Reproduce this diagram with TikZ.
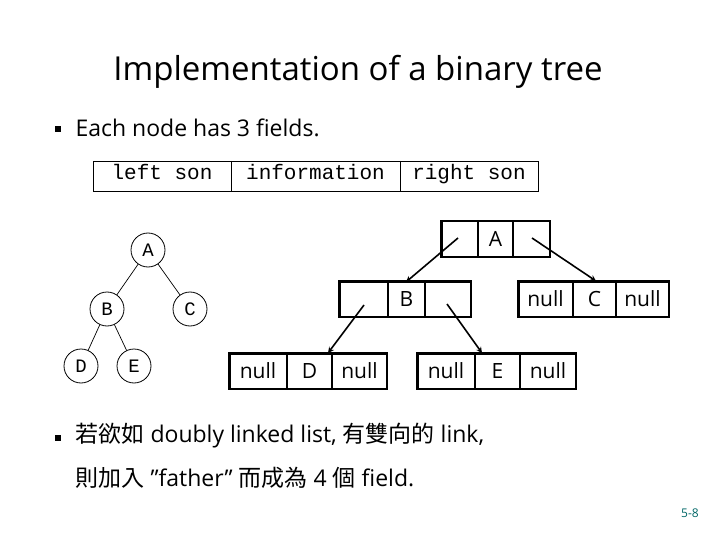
\documentclass[tikz,border=0pt]{standalone}
\usepackage{fontspec}
\setmainfont{Open Sans}
\newfontfamily\monof{Liberation Mono}
\newfontfamily\cjk{Noto Sans CJK TC}
\begin{document}
\begin{tikzpicture}[x=1pt,y=-1pt,
  hdr/.style={font=\monof\fontsize{21}{21}\selectfont,text height=12pt,text depth=4pt},
  circ/.style={circle,minimum size=34pt,inner sep=0pt,font=\monof\fontsize{19}{19}\selectfont},
  lbl/.style={font=\fontsize{21}{21}\selectfont,text height=15pt,text depth=0pt},
  ptr/.style={-stealth,line width=1.6pt},
  bul/.style={fill=black,minimum size=6pt,inner sep=0pt}]
\useasboundingbox (0,0) rectangle (720,540);
\node[font=\fontsize{33}{33}\selectfont] (title) at (358,72) {Implementation of a binary tree};
\node[bul] (b1) at (58,129) {};
\node[anchor=west,font=\fontsize{23}{23}\selectfont] (t1) at (72,128) {Each node has 3 fields.};
% header
\draw[line width=0.8pt] (93,161) rectangle (538,191);
\draw[line width=0.8pt] (231,161) -- (231,191) (400,161) -- (400,191);
\node[hdr] (h1) at (162,176) {left son};
\node[hdr] (h2) at (315.5,176) {information};
\node[hdr] (h3) at (469,176) {right son};
% circles
\node[circ] (cA) at (148,250) {A};
\node[circ] (cB) at (107,309) {B};
\node[circ] (cC) at (190,309) {C};
\node[circ] (cD) at (81,366) {D};
\node[circ] (cE) at (134,366) {E};
\foreach \n in {cA,cB,cC,cD,cE} \draw[line width=0.8pt] (\n.center) circle[radius=17];
\draw[line width=0.7pt] (cA)--(cB) (cA)--(cC) (cB)--(cD) (cB)--(cE);
% structs
\newcommand{\strct}[9]{%
  \draw[line width=2.6pt] (#1,#3) rectangle (#2,#4);
  \draw[line width=1pt] (#1+1,#3+1) rectangle (#2-1,#4-1);
  \draw[line width=1.3pt] (#5,#3) -- (#5,#4) (#6,#3) -- (#6,#4);
  \node[lbl] at ({(#1+#5)/2},{(#3+#4)/2}) {#7};
  \node[lbl] at ({(#5+#6)/2},{(#3+#4)/2}) {#8};
  \node[lbl] at ({(#6+#2)/2},{(#3+#4)/2}) {#9};}
\strct{441}{550}{221}{257}{478}{513}{}{A}{}
\strct{339}{471}{281}{317}{388}{425}{}{B}{}
\strct{518}{669}{281}{317}{573}{616}{null}{C}{null}
\strct{229}{387}{353}{389}{287}{332}{null}{D}{null}
\strct{417}{576}{353}{389}{475}{520}{null}{E}{null}
\coordinate (aL) at (458,238); \coordinate (aR) at (532,238);
\coordinate (bT) at (406,282); \coordinate (cT) at (596,281);
\coordinate (bL) at (364,305); \coordinate (bR) at (447,304);
\coordinate (dT) at (328,353); \coordinate (eT) at (482,353);
\draw[ptr] (aL) -- (bT); \draw[ptr] (aR) -- (cT);
\draw[ptr] (bL) -- (dT); \draw[ptr] (bR) -- (eT);
% bottom text
\node[bul] (b2) at (58,438) {};
\node[anchor=west,font=\fontsize{23}{23}\selectfont] (t2) at (72,436) {{\cjk 若欲如} doubly linked list, {\cjk 有雙向的} link,};
\node[anchor=west,font=\fontsize{23}{23}\selectfont] (t3) at (72,478) {{\cjk 則加入} \symbol{34}father\symbol{34} {\cjk 而成為} 4 {\cjk 個} field.};
\node[text=teal!80!black,font=\fontsize{12}{12}\selectfont] (pg) at (690,513) {5-8};
\end{tikzpicture}
\end{document}
